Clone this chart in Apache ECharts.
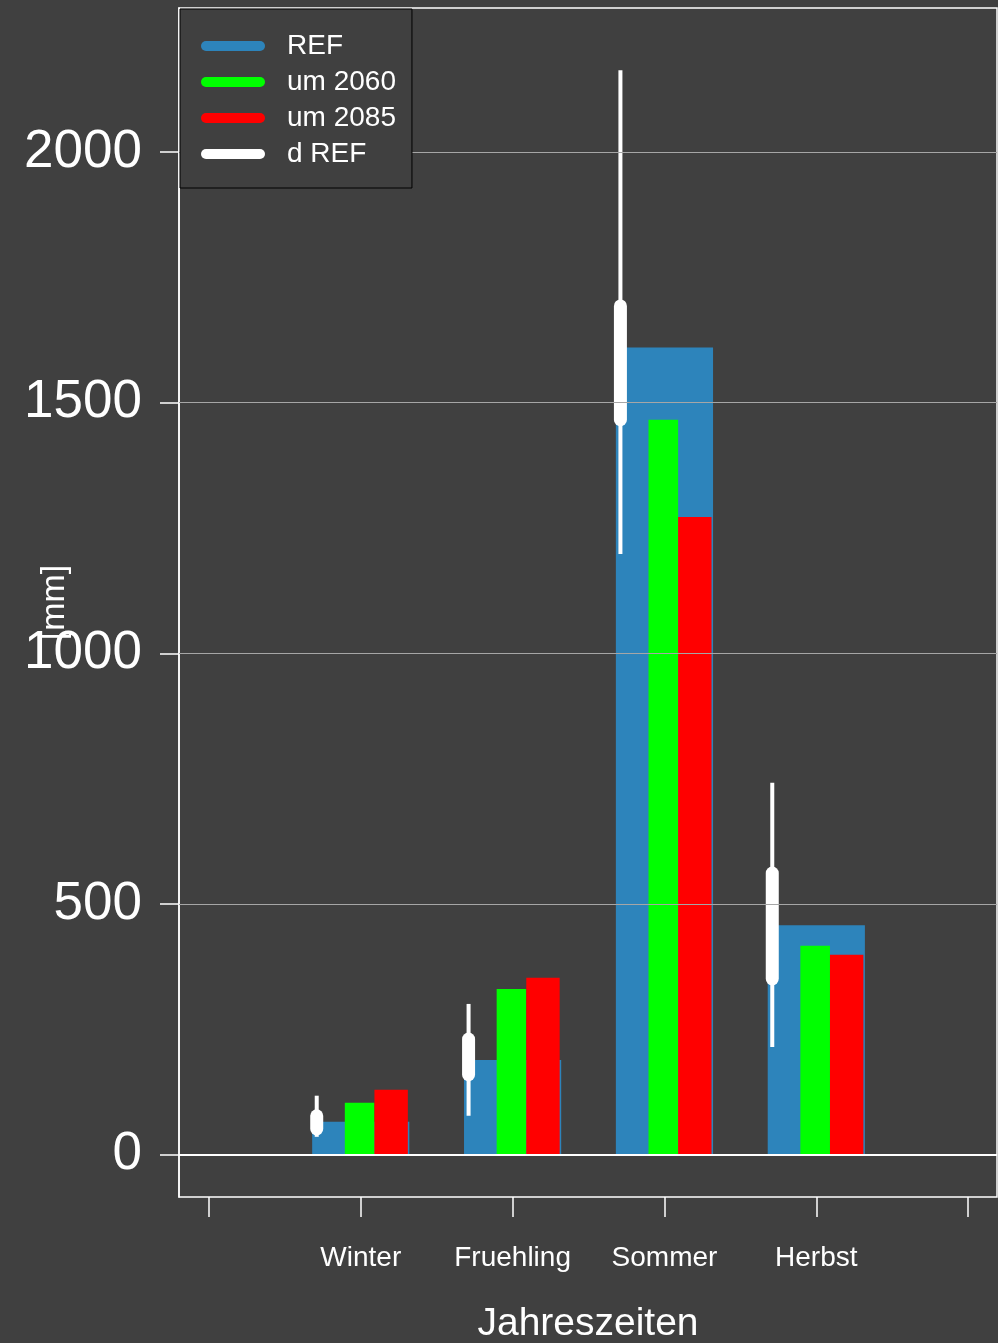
<!DOCTYPE html>
<html>
<head>
<meta charset="utf-8">
<script src="https://cdn.jsdelivr.net/npm/echarts@6/dist/echarts.min.js"></script>
<style>
  html, body { margin: 0; padding: 0; background: #404040; }
  #chart { width: 998px; height: 1343px; }
</style>
</head>
<body>
<div id="chart"></div>
<script>
// Daten
const seasons = ['Winter', 'Fruehling', 'Sommer', 'Herbst'];
const seasonPos = [1, 2, 3, 4];
const refValues = [66, 189, 1610, 458];
const um2060 = [104, 331, 1466, 417];
const um2085 = [130, 353, 1272, 399];
// d REF: [min, unteres Quartil, oberes Quartil, max]
const dRefMin = [36, 78, 1198, 215];
const dRefLow = [52, 160, 1466, 351];
const dRefHigh = [78, 231, 1693, 562];
const dRefMax = [118, 301, 2163, 742];
const yTicks = [0, 500, 1000, 1500, 2000];
const xTicks = [0, 1, 2, 3, 4, 5];

const FONT = 'Liberation Sans, Arial, sans-serif';
const COL_REF = '#2d84bb';
const COL_2060 = '#00ff00';
const COL_2085 = '#ff0000';
// Legendensymbol: Linie mit runden Enden
const PILL = 'path://M5,0 L59,0 A5,5 0 0 1 59,10 L5,10 A5,5 0 0 1 5,0 Z';

const chart = echarts.init(document.getElementById('chart'));

// Balken als custom series: Breite in x-Einheiten relativ zur Kategorie
const barRenderer = (left, right, color) => (params, api) => {
    const x = api.value(0);
    const v = api.value(1);
    const p1 = api.coord([x + left, v]);
    const p2 = api.coord([x + right, 0]);
    return {
        type: 'rect',
        shape: { x: p1[0], y: p1[1], width: p2[0] - p1[0], height: p2[1] - p1[1] },
        style: { fill: color }
    };
};

// Fehlerbalken: duenne Linie min-max, dicke Linie Quartile
const errRenderer = (params, api) => {
    const x = api.value(0) - 0.29;
    const pMin = api.coord([x, api.value(1)]);
    const pLow = api.coord([x, api.value(2)]);
    const pHigh = api.coord([x, api.value(3)]);
    const pMax = api.coord([x, api.value(4)]);
    return {
        type: 'group',
        children: [
            {
                type: 'line',
                shape: { x1: pMin[0], y1: pMin[1], x2: pMax[0], y2: pMax[1] },
                style: { stroke: '#ffffff', lineWidth: 4 }
            },
            {
                type: 'line',
                shape: { x1: pLow[0], y1: pLow[1], x2: pHigh[0], y2: pHigh[1] },
                style: { stroke: '#ffffff', lineWidth: 13, lineCap: 'round' }
            }
        ]
    };
};

const gridLines = yTicks.filter(v => v > 0).map(v => ({ yAxis: v }));

chart.setOption({
    backgroundColor: '#404040',
    animation: false,
    textStyle: { fontFamily: FONT },
    grid: {
        left: 179, right: 1, top: 8, bottom: 146,
        show: true, borderColor: '#ffffff', borderWidth: 1.5,
        outerBoundsMode: 'none'
    },
    legend: {
        left: 180, top: 9, z: 20,
        orient: 'vertical',
        padding: [22, 16, 19, 21],
        itemGap: 6,
        itemWidth: 64, itemHeight: 10,
        backgroundColor: '#404040',
        borderColor: '#000000', borderWidth: 1,
        textStyle: { color: '#ffffff', fontSize: 28, fontFamily: FONT, lineHeight: 24, padding: [6, 0, 0, 17] },
        data: [
            { name: 'REF', icon: PILL, itemStyle: { color: COL_REF } },
            { name: 'um 2060', icon: PILL, itemStyle: { color: COL_2060 } },
            { name: 'um 2085', icon: PILL, itemStyle: { color: COL_2085 } },
            { name: 'd REF', icon: PILL, itemStyle: { color: '#ffffff' } }
        ]
    },
    xAxis: {
        type: 'value',
        min: -0.197, max: 5.19,
        name: 'Jahreszeiten',
        nameLocation: 'middle',
        nameGap: 108,
        nameMoveOverlap: false,
        nameTextStyle: { color: '#ffffff', fontSize: 39, fontFamily: FONT },
        axisLine: { show: false, onZero: false },
        splitLine: { show: false },
        axisTick: {
            show: true, length: 20, customValues: xTicks,
            lineStyle: { color: '#ffffff', width: 1.5 }
        },
        axisLabel: {
            color: '#ffffff', fontSize: 28, fontFamily: FONT, margin: 47,
            customValues: seasonPos,
            formatter: v => seasons[Math.round(v) - 1] || ''
        }
    },
    yAxis: {
        type: 'value',
        min: -84, max: 2287,
        name: '[mm]',
        nameLocation: 'middle',
        nameGap: 107,
        nameRotate: 90,
        nameMoveOverlap: false,
        nameTextStyle: { color: '#ffffff', fontSize: 34, fontFamily: FONT },
        axisLine: { show: true, onZero: false, lineStyle: { color: '#ffffff', width: 1.5 } },
        splitLine: { show: false },
        axisTick: {
            show: true, length: 19, customValues: yTicks,
            lineStyle: { color: '#ffffff', width: 1.5 }
        },
        axisLabel: {
            color: '#ffffff', fontSize: 53, fontFamily: FONT, margin: 37,
            customValues: yTicks,
            formatter: v => String(v)
        }
    },
    series: [
        {
            name: 'REF', type: 'custom', z: 2,
            itemStyle: { color: COL_REF },
            renderItem: barRenderer(-0.32, 0.32, COL_REF),
            data: seasonPos.map((x, i) => [x, refValues[i]]),
            markLine: {
                silent: true, symbol: 'none', label: { show: false },
                data: gridLines,
                lineStyle: { color: '#a6a6a6', width: 1, type: 'solid' }
            }
        },
        {
            name: 'um 2060', type: 'custom', z: 3,
            itemStyle: { color: COL_2060 },
            renderItem: barRenderer(-0.105, 0.09, COL_2060),
            data: seasonPos.map((x, i) => [x, um2060[i]])
        },
        {
            name: 'um 2085', type: 'custom', z: 3,
            itemStyle: { color: COL_2085 },
            renderItem: barRenderer(0.09, 0.31, COL_2085),
            data: seasonPos.map((x, i) => [x, um2085[i]]),
            markLine: {
                silent: true, symbol: 'none', label: { show: false },
                data: [{ yAxis: 0 }],
                lineStyle: { color: '#ffffff', width: 2, type: 'solid' }
            }
        },
        {
            name: 'd REF', type: 'custom', z: 4,
            itemStyle: { color: '#ffffff' },
            renderItem: errRenderer,
            data: seasonPos.map((x, i) => [x, dRefMin[i], dRefLow[i], dRefHigh[i], dRefMax[i]])
        }
    ]
});

window.addEventListener('resize', () => chart.resize());
</script>
</body>
</html>
